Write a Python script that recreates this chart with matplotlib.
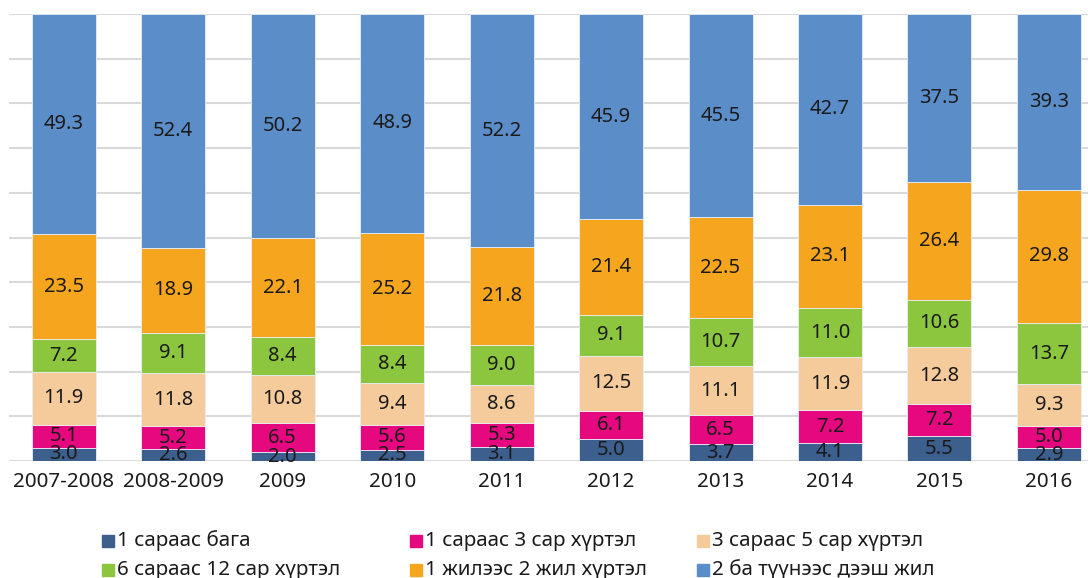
import numpy as np
import matplotlib
matplotlib.use("Agg")
import matplotlib.pyplot as plt
from matplotlib.patches import Rectangle

plt.rcParams['font.family'] = ['Noto Sans', 'DejaVu Sans']

# Periods and share of each duration group (%)
periods = ["2007-2008", "2008-2009", "2009", "2010", "2011",
           "2012", "2013", "2014", "2015", "2016"]
less_1m = [3.0, 2.6, 2.0, 2.5, 3.1, 5.0, 3.7, 4.1, 5.5, 2.9]
m1_3 = [5.1, 5.2, 6.5, 5.6, 5.3, 6.1, 6.5, 7.2, 7.2, 5.0]
m3_5 = [11.9, 11.8, 10.8, 9.4, 8.6, 12.5, 11.1, 11.9, 12.8, 9.3]
m6_12 = [7.2, 9.1, 8.4, 8.4, 9.0, 9.1, 10.7, 11.0, 10.6, 13.7]
y1_2 = [23.5, 18.9, 22.1, 25.2, 21.8, 21.4, 22.5, 23.1, 26.4, 29.8]
y2_plus = [49.3, 52.4, 50.2, 48.9, 52.2, 45.9, 45.5, 42.7, 37.5, 39.3]

series_names = ["1 сараас бага", "1 сараас 3 сар хүртэл", "3 сараас 5 сар хүртэл",
                "6 сараас 12 сар хүртэл", "1 жилээс 2 жил хүртэл", "2 ба түүнээс дээш жил"]
series = [less_1m, m1_3, m3_5, m6_12, y1_2, y2_plus]
colors = ["#3C5F8E", "#E5087E", "#F6CB9B", "#8CC63F", "#F6A61E", "#5B8DC9"]

fig = plt.figure(figsize=(10.88, 5.78), dpi=100)
ax = fig.add_axes([0.0083, 0.2024, 0.9917, 0.7734])

x = np.arange(len(periods))
bottom = np.zeros(len(periods))
for vals, col in zip(series, colors):
    vals = np.array(vals)
    ax.bar(x, vals, width=0.585, bottom=bottom, color=col,
           edgecolor="#e8eef7", linewidth=0.6, zorder=2)
    for xi, b, v in zip(x, bottom, vals):
        ax.text(xi, b + v / 2, f"{v:.1f}", ha="center", va="center",
                fontsize=14.5, color="#1a1a1a", zorder=3)
    bottom += vals

ax.set_xlim(-0.5, 9.357)
ax.set_ylim(0, 100)
ax.set_yticks(np.arange(0, 101, 10))
ax.yaxis.grid(True, color="#d9d9d9", linewidth=1.5, zorder=0)
ax.set_yticklabels([])
ax.tick_params(axis="y", length=0)
ax.tick_params(axis="x", length=0, pad=8, labelsize=14.8, labelcolor="#1a1a1a")
ax.set_xticks(x)
ax.set_xticklabels(periods)
for s in ax.spines.values():
    s.set_visible(False)

# legend, two rows of three
leg_x = [102, 410, 697]
leg_y = [541, 570]
W, H = 1088, 578
for i, (name, col) in enumerate(zip(series_names, colors)):
    r, c = divmod(i, 3)
    px, py = leg_x[c], leg_y[r]
    fig.add_artist(Rectangle((px / W, 1 - (py + 6) / H), 12 / W, 12 / H,
                             transform=fig.transFigure, color=col))
    fig.text((px + 15) / W, 1 - py / H, name, ha="left", va="center",
             fontsize=14.8, color="#1a1a1a")

fig.savefig("out.png", dpi=100)
